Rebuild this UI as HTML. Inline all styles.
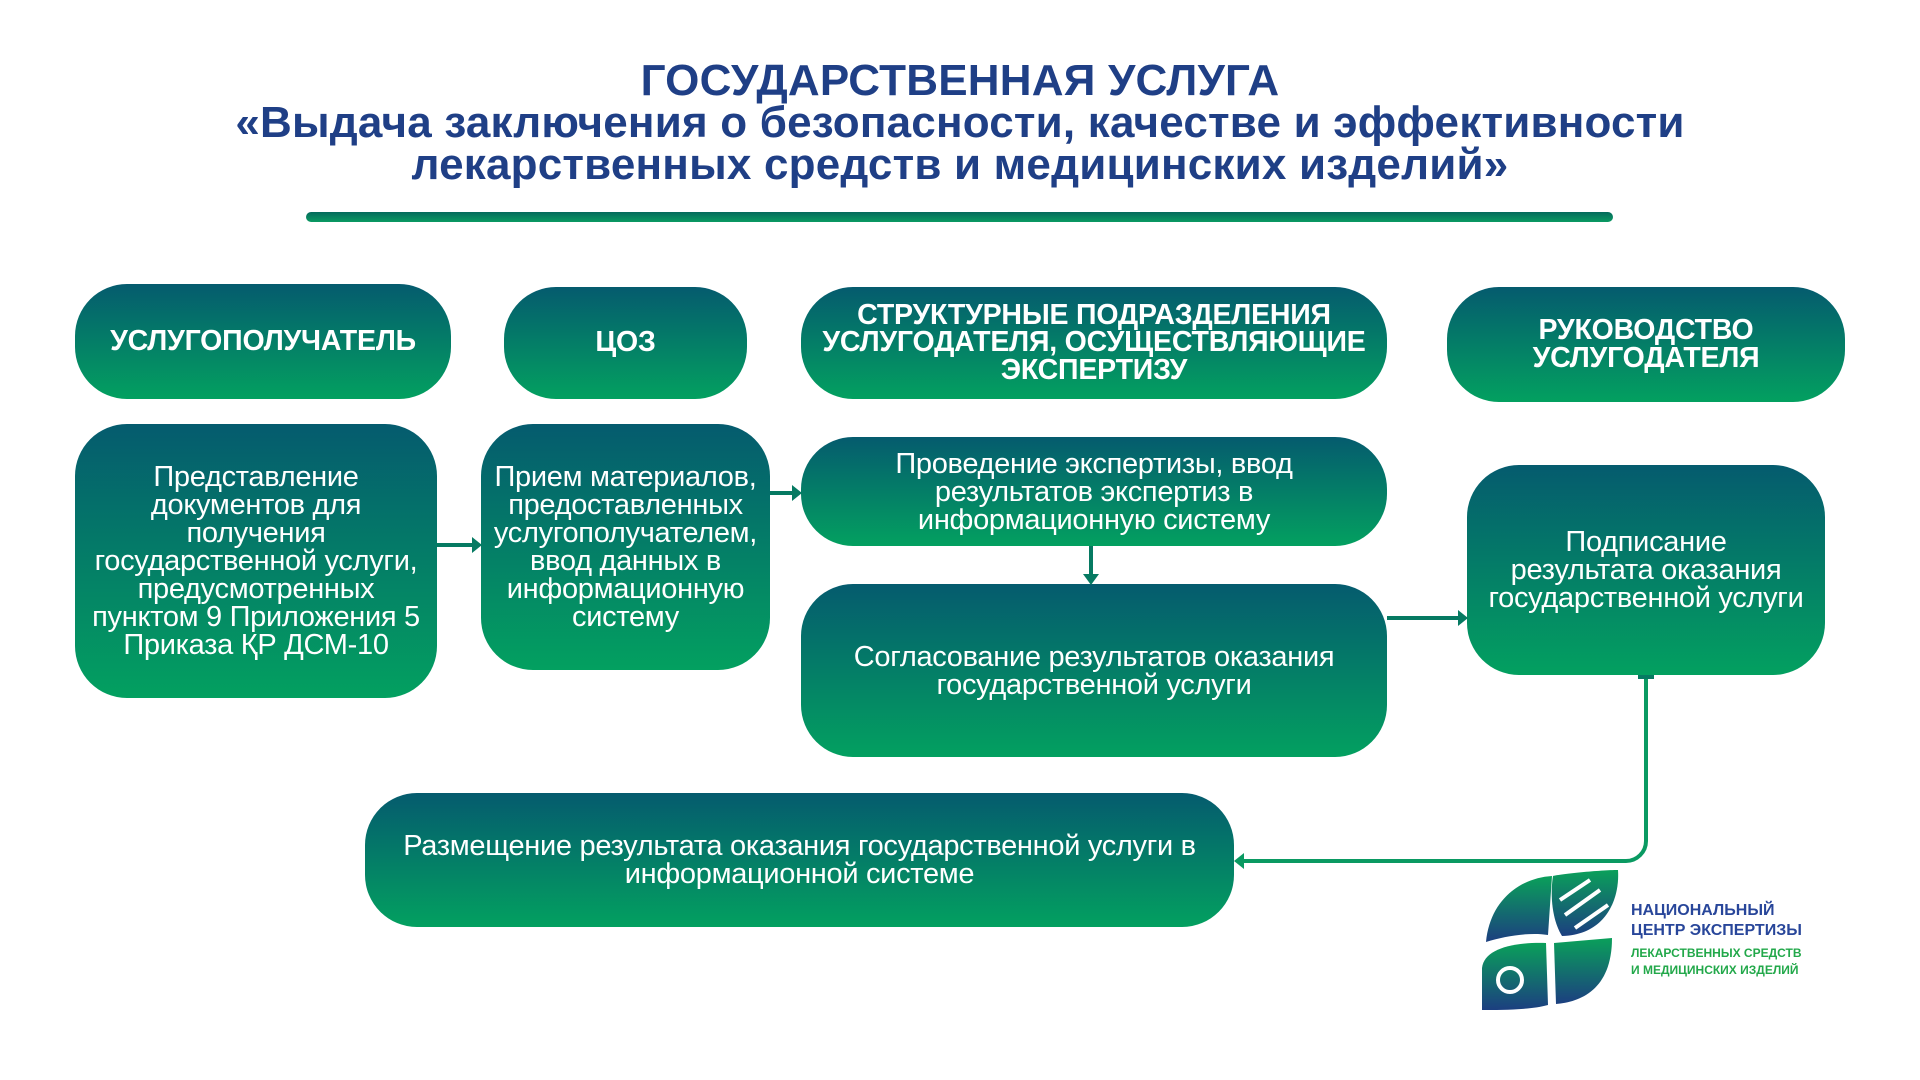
<!DOCTYPE html>
<html><head><meta charset="utf-8"><style>
body{margin:0;width:1920px;height:1080px;background:#fff;position:relative;overflow:hidden;font-family:"Liberation Sans",sans-serif}
.t{position:absolute;left:0;width:1920px;text-align:center;color:#1f3f86;font-weight:bold;font-size:44px;line-height:42px;top:60px;letter-spacing:0.2px}
.bar{position:absolute;left:306px;top:212px;width:1307px;height:10px;border-radius:5px;background:linear-gradient(#046a5c,#0a9a62)}
.b{position:absolute;box-sizing:border-box;border-radius:52px;background:linear-gradient(#055b6e,#03a060);color:#fff;display:flex;align-items:center;justify-content:center;text-align:center;font-size:29px;line-height:28px;padding:0 2px;letter-spacing:-0.3px;white-space:nowrap}
.h{font-weight:bold;font-size:28.5px;line-height:27.5px;letter-spacing:-0.2px}
svg.a{position:absolute;left:0;top:0}
.lt{position:absolute;left:1631px;font-weight:bold;font-size:16px;line-height:20px}
</style></head><body>
<div class="t">ГОСУДАРСТВЕННАЯ УСЛУГА<br>«Выдача заключения о безопасности, качестве и эффективности<br>лекарственных средств и медицинских изделий»</div>
<div class="bar"></div>
<div class="b h" style="left:75px;top:284px;width:376px;height:115px">УСЛУГОПОЛУЧАТЕЛЬ</div>
<div class="b h" style="left:504px;top:287px;width:243px;height:112px">ЦОЗ</div>
<div class="b h" style="left:801px;top:287px;width:586px;height:112px">СТРУКТУРНЫЕ ПОДРАЗДЕЛЕНИЯ<br>УСЛУГОДАТЕЛЯ, ОСУЩЕСТВЛЯЮЩИЕ<br>ЭКСПЕРТИЗУ</div>
<div class="b h" style="left:1447px;top:287px;width:398px;height:115px">РУКОВОДСТВО<br>УСЛУГОДАТЕЛЯ</div>
<div class="b" style="left:75px;top:424px;width:362px;height:274px">Представление<br>документов для<br>получения<br>государственной услуги,<br>предусмотренных<br>пунктом 9 Приложения 5<br>Приказа ҚР ДСМ-10</div>
<div class="b" style="left:481px;top:424px;width:289px;height:246px">Прием материалов,<br>предоставленных<br>услугополучателем,<br>ввод данных в<br>информационную<br>систему</div>
<div class="b" style="left:801px;top:437px;width:586px;height:109px">Проведение экспертизы, ввод<br>результатов экспертиз в<br>информационную систему</div>
<div class="b" style="left:801px;top:584px;width:586px;height:173px">Согласование результатов оказания<br>государственной услуги</div>
<div class="b" style="left:1467px;top:465px;width:358px;height:210px">Подписание<br>результата оказания<br>государственной услуги</div>
<div class="b" style="left:365px;top:793px;width:869px;height:134px">Размещение результата оказания государственной услуги в<br>информационной системе</div>
<svg class="a" width="1920" height="1080">
<g stroke="#067a62" stroke-width="4" fill="none">
<line x1="437" y1="545" x2="474" y2="545"/>
<line x1="770" y1="493" x2="794" y2="493"/>
<line x1="1091" y1="546" x2="1091" y2="576"/>
<line x1="1387" y1="618" x2="1460" y2="618"/>
<path d="M1646 676 V841 a20 20 0 0 1 -20 20 H1242" stroke="#0a9a62"/>
<line x1="1638" y1="677" x2="1654" y2="677"/>
</g>
<g fill="#067a62">
<polygon points="472,537 482,545 472,553"/>
<polygon points="792,485 802,493 792,501"/>
<polygon points="1083,574 1091,585 1099,574"/>
<polygon points="1458,610 1468,618 1458,626"/>
<polygon points="1244,853 1234,861 1244,869" fill="#0a9a62"/>
</g>
<defs><linearGradient id="lg" x1="0" y1="0" x2="0" y2="1"><stop offset="0" stop-color="#0aa05a"/><stop offset="1" stop-color="#1c3f80"/></linearGradient></defs>
<path d="M1486 942 C1490 900 1520 878 1552 876 L1548 935 C1530 932 1505 936 1486 942Z" fill="url(#lg)"/>
<path d="M1553 876 C1560 874 1600 870 1618 870 C1620 900 1605 935 1562 936 C1552 920 1550 895 1553 876Z" fill="url(#lg)"/>
<path d="M1482 1010 L1482 968 C1484 950 1510 942 1546 943 L1548 1005 C1530 1010 1500 1010 1482 1010Z" fill="url(#lg)"/>
<path d="M1554 943 L1612 938 C1612 990 1580 1002 1556 1004Z" fill="url(#lg)"/>
<g stroke="#fff" stroke-width="4"><line x1="1560" y1="900" x2="1590" y2="880"/><line x1="1565" y1="915" x2="1600" y2="890"/><line x1="1575" y1="928" x2="1608" y2="905"/></g>
<circle cx="1510" cy="980" r="12" fill="none" stroke="#fff" stroke-width="4"/>
</svg>
<div class="lt" style="top:901px;color:#28469a">НАЦИОНАЛЬНЫЙ<br>ЦЕНТР ЭКСПЕРТИЗЫ</div>
<div class="lt" style="top:945px;color:#22a84a;font-size:12px;line-height:17px">ЛЕКАРСТВЕННЫХ СРЕДСТВ<br>И МЕДИЦИНСКИХ ИЗДЕЛИЙ</div>
</body></html>
